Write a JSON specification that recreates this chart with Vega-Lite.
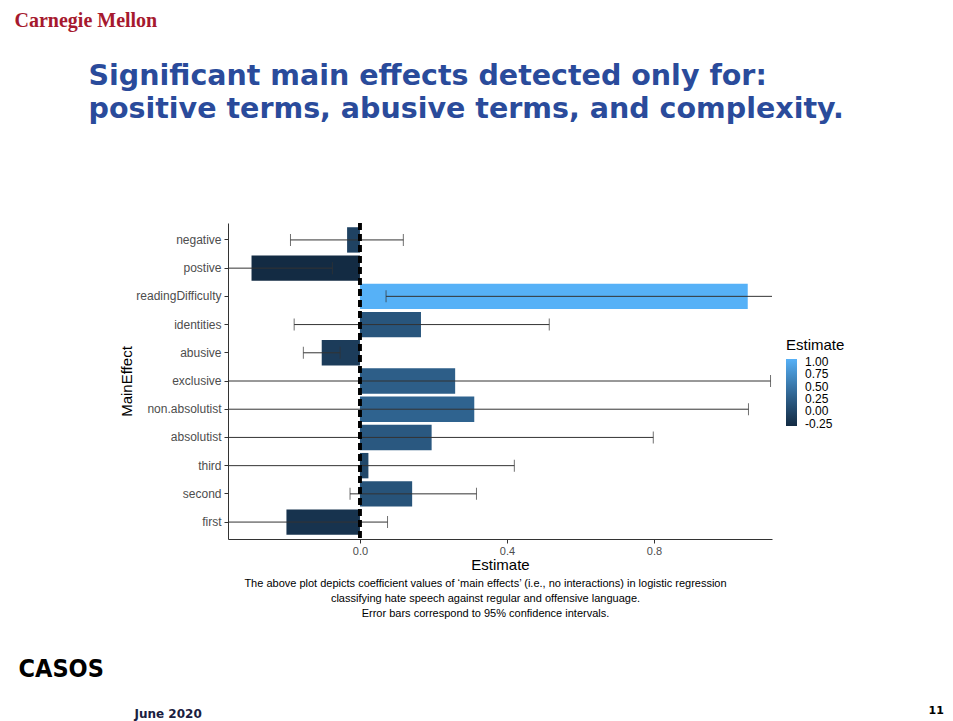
{
  "$schema": "https://vega.github.io/schema/vega-lite/v6.json",
  "autosize": "none",
  "width": 544,
  "height": 316,
  "padding": {"left": 228, "top": 223, "right": 181, "bottom": 182},
  "background": "white",
  "config": {
    "view": {"stroke": null},
    "font": "Liberation Sans"
  },
  "data": {
    "values": [
      {"MainEffect": "negative", "Estimate": -0.035, "lo": -0.189, "hi": 0.118},
      {"MainEffect": "postive", "Estimate": -0.295, "lo": -0.515, "hi": -0.075},
      {"MainEffect": "readingDifficulty", "Estimate": 1.055, "lo": 0.071, "hi": 2.04},
      {"MainEffect": "identities", "Estimate": 0.166, "lo": -0.179, "hi": 0.515},
      {"MainEffect": "abusive", "Estimate": -0.104, "lo": -0.154, "hi": -0.054},
      {"MainEffect": "exclusive", "Estimate": 0.259, "lo": -0.599, "hi": 1.117},
      {"MainEffect": "non.absolutist", "Estimate": 0.311, "lo": -0.435, "hi": 1.057},
      {"MainEffect": "absolutist", "Estimate": 0.195, "lo": -0.408, "hi": 0.798},
      {"MainEffect": "third", "Estimate": 0.023, "lo": -0.374, "hi": 0.42},
      {"MainEffect": "second", "Estimate": 0.142, "lo": -0.027, "hi": 0.317},
      {"MainEffect": "first", "Estimate": -0.2, "lo": -0.475, "hi": 0.075}
    ]
  },
  "resolve": {"axis": {"x": "independent", "y": "independent"}},
  "layer": [
    {
      "mark": {"type": "bar", "clip": true},
      "encoding": {
        "y": {
          "field": "MainEffect", "type": "nominal", "sort": null,
          "scale": {"paddingInner": 0.1, "paddingOuter": 0.15},
          "axis": {
            "title": "MainEffect", "titleFontSize": 15, "titleFontWeight": "normal", "titleColor": "black",
            "titleFont": "Liberation Sans", "titlePadding": 1,
            "labelFontSize": 12, "labelColor": "#4d4d4d", "labelFont": "Liberation Sans",
            "labelPadding": 3,
            "tickSize": 4, "tickColor": "#333333", "domainColor": "#333333", "grid": false
          }
        },
        "x": {
          "field": "Estimate", "type": "quantitative",
          "scale": {"domain": [-0.359, 1.121], "nice": false, "zero": false},
          "axis": {
            "values": [0, 0.4, 0.8], "format": ".1f", "grid": false,
            "title": "Estimate", "titleFontSize": 15, "titleFontWeight": "normal", "titleColor": "black",
            "titleFont": "Liberation Sans", "titleY": 30, "titleBaseline": "alphabetic",
            "labelFontSize": 11, "labelColor": "#4d4d4d", "labelFont": "Liberation Sans", "labelPadding": 2,
            "tickSize": 4, "tickColor": "#333333", "domainColor": "#333333"
          }
        },
        "color": {
          "field": "Estimate", "type": "quantitative",
          "scale": {"range": ["#132B43", "#56B1F7"], "interpolate": "lab", "zero": false, "nice": false},
          "legend": {
            "orient": "none", "legendX": 558, "legendY": 115, "direction": "vertical",
            "values": [-0.25, 0, 0.25, 0.5, 0.75, 1], "format": ".2f",
            "labelExpr": "replace(datum.label, '\u2212', '-')",
            "title": "Estimate", "titleFontSize": 15, "titleFontWeight": "normal", "titleColor": "black",
            "titleFont": "Liberation Sans", "titlePadding": 6,
            "labelFontSize": 12, "labelColor": "black", "labelFont": "Liberation Sans", "labelOffset": 8,
            "gradientLength": 67, "gradientThickness": 11, "gradientStrokeWidth": 0
          }
        }
      }
    },
    {
      "mark": {"type": "rule", "clip": true, "color": "#333333", "strokeWidth": 1},
      "encoding": {
        "y": {
          "field": "MainEffect", "type": "nominal", "sort": null,
          "axis": {
            "title": "CASOS", "orient": "left", "labels": false, "ticks": false, "domain": false, "grid": false,
            "titleX": -210, "titleY": 453, "titleAlign": "left", "titleBaseline": "alphabetic", "titleAngle": 0,
            "titleFont": "DejaVu Sans Condensed, DejaVu Sans", "titleFontWeight": "bold", "titleFontSize": 25,
            "titleColor": "black"
          }
        },
        "x": {
          "field": "lo", "type": "quantitative",
          "axis": {
            "title": ["Significant main effects detected only for:", "positive terms, abusive terms, and complexity."],
            "orient": "top", "labels": false, "ticks": false, "domain": false, "grid": false,
            "titleX": -140, "titleY": -139, "titleAlign": "left", "titleBaseline": "alphabetic", "titleAngle": 0,
            "titleFont": "Verdana, DejaVu Sans", "titleFontWeight": "bold", "titleFontSize": 28.5, "titleColor": "#2a4b9b",
            "titleLineHeight": 33
          }
        },
        "x2": {"field": "hi"}
      }
    },
    {
      "mark": {"type": "tick", "clip": true, "color": "#333333", "thickness": 1, "size": 12},
      "encoding": {
        "y": {"field": "MainEffect", "type": "nominal", "sort": null, "axis": null},
        "x": {
          "field": "lo", "type": "quantitative",
          "axis": {
            "title": "Carnegie Mellon",
            "orient": "top", "labels": false, "ticks": false, "domain": false, "grid": false,
            "titleX": -214, "titleY": -197, "titleAlign": "left", "titleBaseline": "alphabetic", "titleAngle": 0,
            "titleFont": "Liberation Serif", "titleFontWeight": "bold", "titleFontSize": 20, "titleColor": "#a6192e"
          }
        }
      }
    },
    {
      "mark": {"type": "tick", "clip": true, "color": "#333333", "thickness": 1, "size": 12},
      "encoding": {
        "y": {
          "field": "MainEffect", "type": "nominal", "sort": null,
          "axis": {
            "title": "11", "orient": "right", "labels": false, "ticks": false, "domain": false, "grid": false,
            "titleX": 156, "titleY": 490, "titleAlign": "left", "titleBaseline": "alphabetic", "titleAngle": 0,
            "titleFont": "DejaVu Sans", "titleFontWeight": "bold", "titleFontSize": 11, "titleColor": "black"
          }
        },
        "x": {
          "field": "hi", "type": "quantitative",
          "axis": {
            "title": "June 2020",
            "orient": "bottom", "labels": false, "ticks": false, "domain": false, "grid": false,
            "titleX": -94, "titleY": 178, "titleAlign": "left", "titleBaseline": "alphabetic", "titleAngle": 0,
            "titleFont": "DejaVu Sans", "titleFontWeight": "bold", "titleFontSize": 12, "titleColor": "#1a2040"
          }
        }
      }
    },
    {
      "mark": {"type": "rule", "color": "black", "strokeWidth": 2.5, "strokeDash": [7, 4]},
      "encoding": {
        "x": {
          "datum": 0, "type": "quantitative",
          "axis": {
            "title": ["The above plot depicts coefficient values of \u2018main effects\u2019 (i.e., no interactions) in logistic regression", "classifying hate speech against regular and offensive language.", "Error bars correspond to 95% confidence intervals."],
            "orient": "bottom", "labels": false, "ticks": false, "domain": false, "grid": false,
            "titleX": 257, "titleY": 47, "titleAlign": "center", "titleBaseline": "alphabetic", "titleAngle": 0,
            "titleFont": "Liberation Sans", "titleFontWeight": "normal", "titleFontSize": 11, "titleColor": "black",
            "titleLineHeight": 15
          }
        }
      }
    }
  ]
}
